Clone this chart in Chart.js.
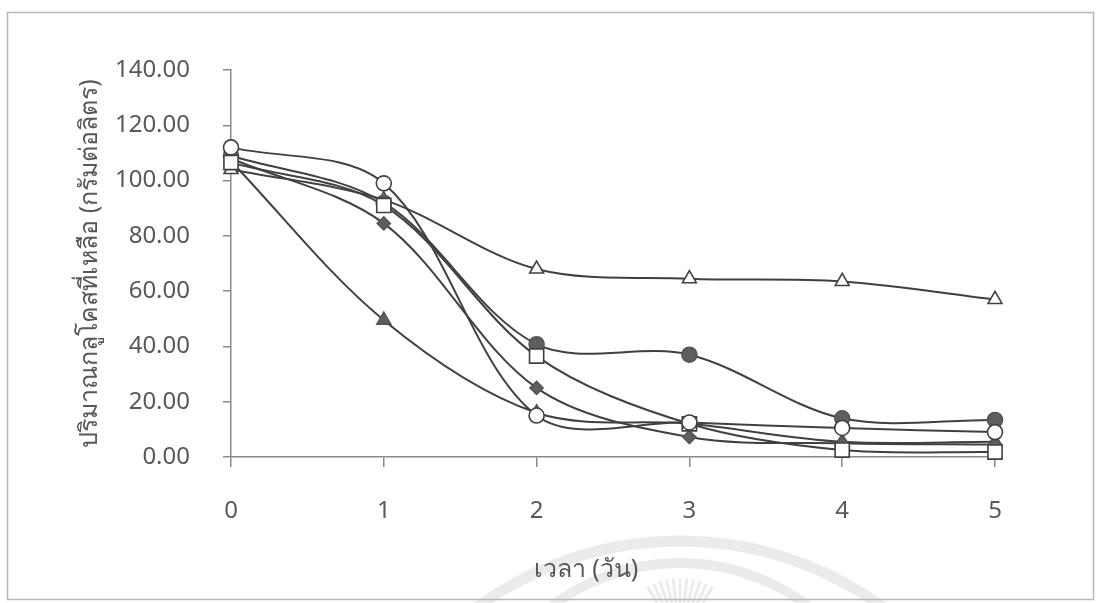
<!DOCTYPE html>
<html>
<head>
<meta charset="utf-8">
<script src="https://cdn.jsdelivr.net/npm/chart.js@4.4.1/dist/chart.umd.min.js"></script>
<style>
  html, body { margin: 0; padding: 0; background: #ffffff; }
  #wrap { width: 1099px; height: 603px; position: relative; }
</style>
</head>
<body>
<div id="wrap"><canvas id="c" width="1099" height="603"></canvas></div>
<script>
// Time in days
const days = [0, 1, 2, 3, 4, 5];

// Remaining glucose (g/L) for each treatment
const openCircle     = [112.0, 99.0, 15.0, 12.5, 10.5, 9.0];
const openSquare     = [106.5, 91.0, 36.5, 12.0, 2.5, 1.8];
const filledCircle   = [109.0, 92.0, 40.8, 37.0, 14.0, 13.4];
const filledDiamond  = [108.0, 84.5, 25.0, 7.2, 5.0, 4.5];
const filledTriangle = [107.0, 49.5, 16.0, 12.0, 5.5, 5.5];
const openTriangle   = [104.0, 93.0, 68.0, 64.5, 63.5, 57.0];

const yTicks = [0, 20, 40, 60, 80, 100, 120, 140];
const xTitle = 'เวลา (วัน)';
const yTitle = 'ปริมาณกลูโคสที่เหลือ (กรัมต่อลิตร)';

const LINE = '#404040';
const FILL = '#5e5e5e';
const TEXT = '#585858';
const AXIS = '#8a8a8a';
const FONT = "'Noto Sans', 'DejaVu Sans', sans-serif";

function series(values, style, filled, radius) {
  return {
    data: days.map((d, i) => ({ x: d, y: values[i] })),
    borderColor: LINE,
    borderWidth: 2,
    pointStyle: style,
    pointRadius: radius,
    pointBackgroundColor: filled ? FILL : '#ffffff',
    pointBorderColor: filled ? '#555555' : LINE,
    pointBorderWidth: 1.6,
    tension: 0.33,
    clip: false,
    fill: false
  };
}

// Framing rectangle and faint seal behind the plot
const backdrop = {
  id: 'backdrop',
  beforeDraw(chart) {
    const ctx = chart.ctx;
    ctx.save();
    ctx.fillStyle = '#ffffff';
    ctx.fillRect(0, 0, chart.width, chart.height);
    ctx.strokeStyle = 'rgba(205,205,205,0.4)';
    ctx.lineWidth = 11;
    ctx.beginPath();
    ctx.arc(680, 885, 344, Math.PI, 2 * Math.PI);
    ctx.stroke();
    ctx.lineWidth = 10;
    ctx.beginPath();
    ctx.arc(680, 775, 212, Math.PI, 2 * Math.PI);
    ctx.stroke();
    ctx.lineWidth = 3;
    for (let a = -0.55; a <= 0.55; a += 0.11) {
      const ang = -Math.PI / 2 + a;
      ctx.beginPath();
      ctx.moveTo(680 + Math.cos(ang) * 12, 640 + Math.sin(ang) * 12);
      ctx.lineTo(680 + Math.cos(ang) * 62, 640 + Math.sin(ang) * 62);
      ctx.stroke();
    }
    ctx.strokeStyle = '#b8b8b8';
    ctx.lineWidth = 1.5;
    ctx.strokeRect(7.5, 12.5, 1086, 587);
    ctx.restore();
  },
  // time-axis caption, set a little left of the plot centre
  afterDraw(chart) {
    const ctx = chart.ctx;
    ctx.save();
    ctx.fillStyle = TEXT;
    ctx.font = "25px " + FONT;
    ctx.textAlign = 'center';
    ctx.textBaseline = 'middle';
    ctx.fillText(xTitle, 586, 570);
    ctx.restore();
  }
};

new Chart(document.getElementById('c'), {
  type: 'line',
  data: {
    datasets: [
      series(openCircle, 'circle', false, 7.5),
      series(openSquare, 'rect', false, 10),
      series(filledCircle, 'circle', true, 7.5),
      series(filledDiamond, 'rectRot', true, 6.5),
      series(filledTriangle, 'triangle', true, 8),
      series(openTriangle, 'triangle', false, 8)
    ]
  },
  options: {
    responsive: false,
    animation: false,
    events: [],
    layout: { padding: { left: 71, right: 104, top: 70, bottom: 16 } },
    plugins: { legend: { display: false }, tooltip: { enabled: false } },
    scales: {
      x: {
        type: 'linear',
        min: 0, max: 5,
        afterFit(s) { s.height = 130; },
        afterBuildTicks(s) { s.ticks = days.map(v => ({ value: v })); },
        grid: { drawOnChartArea: false, drawTicks: true, tickLength: 10, color: AXIS, lineWidth: 1.5 },
        border: { display: true, color: AXIS, width: 1.5 },
        ticks: { padding: 30, color: TEXT, font: { family: FONT, size: 24 }, callback: v => String(v) },
        title: { display: false }
      },
      y: {
        min: 0, max: 140,
        afterFit(s) { s.width = 160; },
        afterBuildTicks(s) { s.ticks = yTicks.map(v => ({ value: v })); },
        grid: { drawOnChartArea: false, drawTicks: true, tickLength: 8, color: AXIS, lineWidth: 1.5 },
        border: { display: true, color: AXIS, width: 1.5 },
        ticks: { padding: 33, color: TEXT, font: { family: FONT, size: 24 }, callback: v => v.toFixed(2) },
        title: { display: true, text: yTitle, color: TEXT, font: { family: FONT, size: 25 }, padding: 4 }
      }
    }
  },
  plugins: [backdrop]
});
</script>
</body>
</html>
